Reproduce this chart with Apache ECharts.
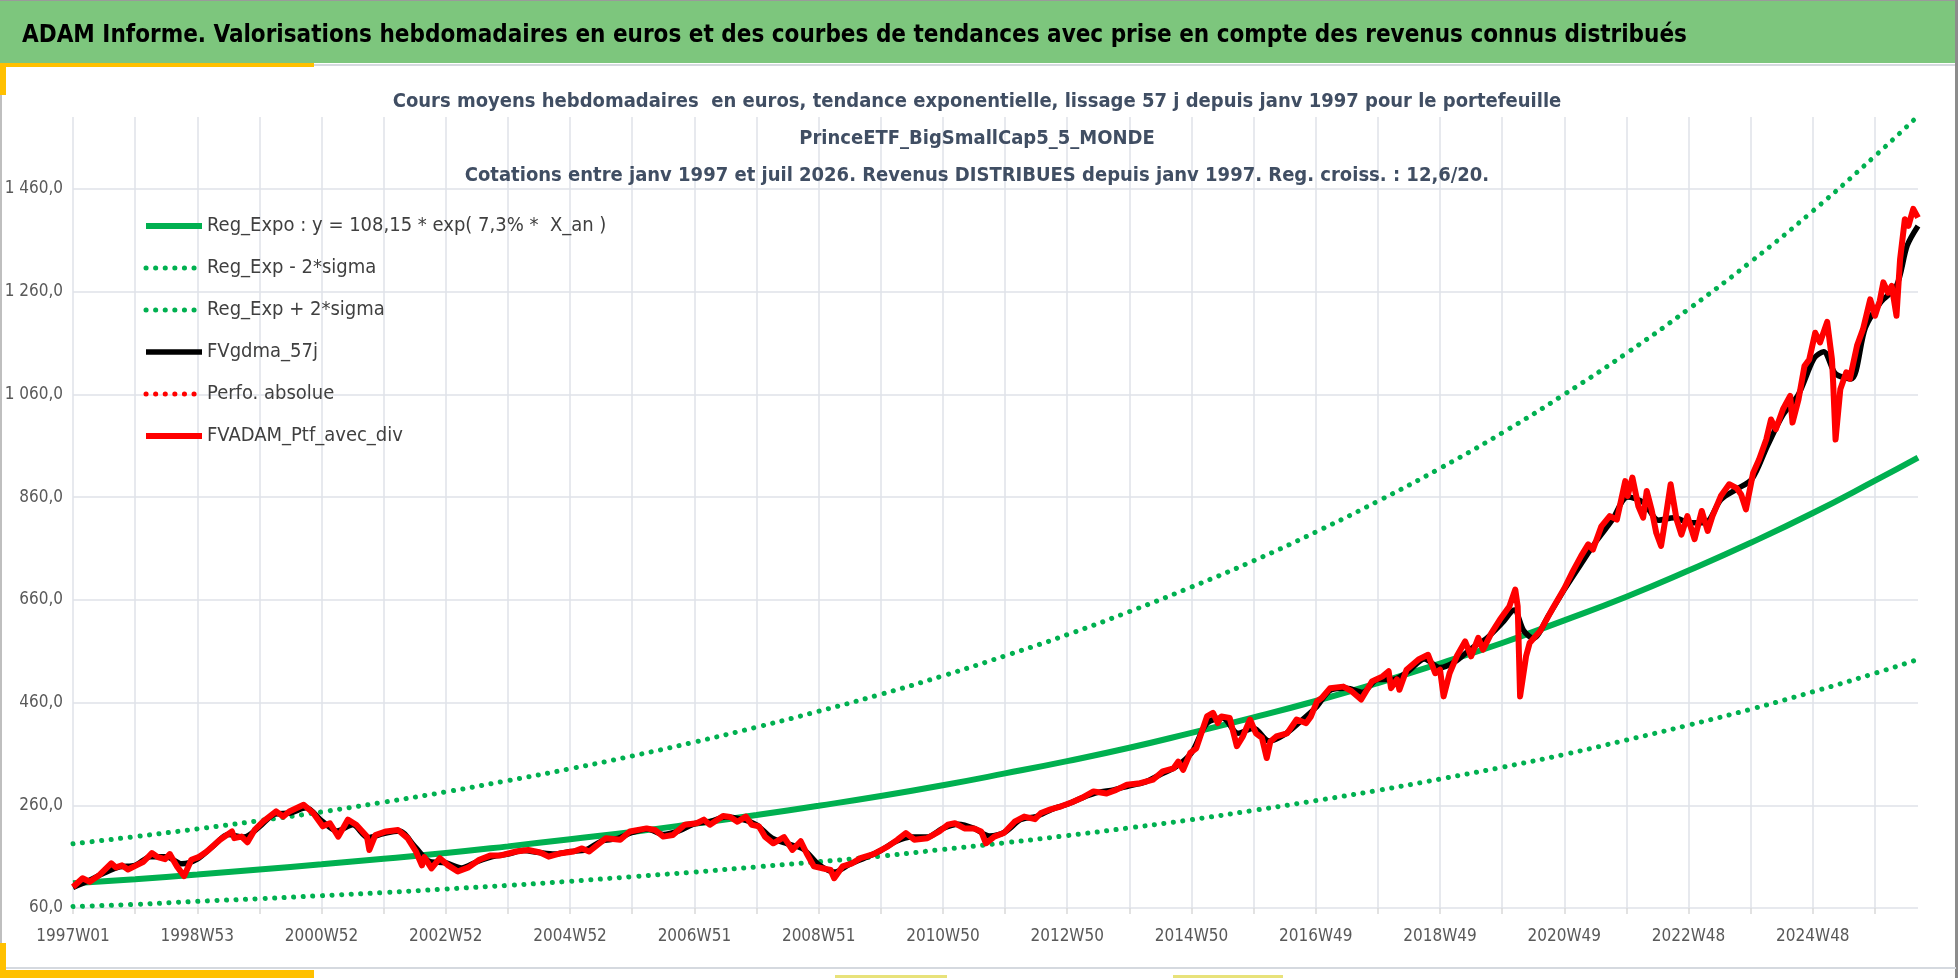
<!DOCTYPE html>
<html lang="fr">
  <head>
    <meta charset="UTF-8" />
    <title>ADAM Informe - PrinceETF_BigSmallCap5_5_MONDE</title>
    <script src="https://cdn.jsdelivr.net/npm/echarts@6/dist/echarts.min.js"></script>
    <style>
      html, body { margin: 0; padding: 0; background: #fff; }
      #chart { width: 1958px; height: 978px; }
    </style>
  </head>
  <body>
    <div id="chart"></div>
    <script>
      // libellés de l'axe des semaines (un tous les 104 points)
      var tickLabels = ['1997W01', '1998W53', '2000W52', '2002W52', '2004W52', '2006W51', '2008W51',
        '2010W50', '2012W50', '2014W50', '2016W49', '2018W49', '2020W49', '2022W48', '2024W48'];
      var lastWeek = 1544;

      // courbes de tendance, lues toutes les 52 semaines
      var trendWeeks = [0, 52, 104, 156, 208, 260, 312, 364, 416, 468, 520, 572, 624, 676, 728, 780,
        832, 884, 936, 988, 1040, 1092, 1144, 1196, 1248, 1300, 1352, 1404, 1456, 1508, 1544];
      var regExpo = [108, 116, 125, 135, 145, 156, 167, 180, 194, 208, 224, 241, 259, 278, 299, 322,
        346, 372, 401, 431, 463, 498, 536, 576, 620, 666, 717, 771, 829, 892, 937];
      var regLow = [63, 67, 73, 78, 84, 90, 97, 104, 112, 121, 130, 140, 150, 161, 174, 187,
        201, 216, 232, 250, 269, 289, 311, 334, 359, 387, 416, 447, 481, 517, 544];
      var regHigh = [185, 199, 214, 230, 247, 266, 286, 308, 331, 356, 383, 412, 443, 476, 512, 551,
        592, 637, 685, 736, 792, 852, 916, 985, 1060, 1140, 1226, 1318, 1417, 1524, 1602];

      // moyenne lissee 57 j : [semaine, valeur]
      var gdma57 = [[0, 100], [13, 113], [26, 128], [39, 140], [52, 143], [65, 160], [78, 160], [91, 146],
        [104, 155], [117, 180], [130, 203], [143, 198], [156, 218], [169, 243], [182, 245], [195, 255],
        [208, 230], [221, 210], [234, 222], [247, 197], [260, 205], [273, 210], [286, 180], [299, 150],
        [312, 148], [325, 138], [338, 150], [351, 160], [364, 165], [377, 172], [390, 168], [403, 165],
        [416, 170], [429, 173], [442, 190], [455, 195], [468, 207], [481, 214], [494, 203], [507, 210],
        [520, 224], [533, 228], [546, 237], [559, 233], [572, 222], [585, 196], [598, 185], [611, 175],
        [624, 145], [637, 130], [650, 145], [663, 158], [676, 172], [689, 190], [702, 198], [715, 198],
        [728, 215], [741, 223], [754, 215], [767, 200], [780, 208], [793, 232], [806, 238], [819, 252],
        [832, 262], [845, 275], [858, 285], [871, 290], [884, 298], [897, 305], [910, 320], [923, 335],
        [936, 362], [949, 420], [962, 430], [975, 400], [988, 410], [1001, 385], [1014, 398], [1027, 423],
        [1040, 450], [1053, 485], [1066, 488], [1079, 480], [1092, 505], [1105, 505], [1118, 522], [1131, 545],
        [1144, 528], [1157, 540], [1170, 565], [1183, 585], [1196, 615], [1206, 640], [1214, 600], [1222, 585],
        [1235, 630], [1248, 680], [1262, 730], [1275, 775], [1288, 815], [1301, 860], [1314, 850], [1327, 815],
        [1340, 820], [1353, 810], [1366, 810], [1379, 855], [1392, 875], [1405, 895], [1418, 960], [1431, 1020],
        [1444, 1060], [1457, 1130], [1465, 1143], [1475, 1100], [1488, 1090], [1500, 1190], [1513, 1240],
        [1526, 1271], [1535, 1350], [1544, 1388]];

      // valorisation du portefeuille avec dividendes : [semaine, valeur]
      var ptfAvecDiv = [[0, 101], [8, 118], [14, 111], [22, 124], [32, 147], [36, 139], [41, 143], [46, 135],
        [53, 143], [59, 150], [66, 167], [71, 159], [77, 155], [81, 165], [87, 141], [93, 122], [99, 154],
        [105, 159], [112, 170], [123, 193], [133, 209], [135, 196], [141, 199], [146, 188], [152, 212],
        [159, 228], [170, 248], [176, 238], [181, 248], [193, 261], [201, 245], [209, 219], [215, 225],
        [222, 199], [230, 232], [237, 222], [246, 199], [248, 173], [253, 202], [262, 209], [272, 212],
        [280, 196], [287, 170], [292, 143], [294, 159], [300, 137], [307, 157], [314, 143], [322, 131],
        [331, 139], [340, 154], [349, 162], [357, 162], [371, 170], [381, 173], [391, 168], [398, 160],
        [407, 166], [419, 170], [426, 176], [432, 170], [446, 196], [458, 193], [466, 209], [480, 215],
        [487, 212], [494, 199], [502, 202], [512, 222], [522, 225], [528, 232], [533, 222], [544, 239],
        [550, 237], [556, 228], [563, 238], [568, 222], [574, 219], [579, 199], [586, 186], [595, 198],
        [602, 173], [609, 190], [614, 166], [620, 141], [628, 137], [634, 134], [637, 118], [644, 141],
        [652, 147], [659, 157], [670, 165], [682, 180], [690, 193], [697, 206], [704, 193], [715, 196],
        [725, 209], [732, 222], [738, 225], [746, 215], [754, 215], [760, 209], [764, 186], [771, 199],
        [779, 206], [788, 228], [796, 238], [805, 233], [810, 245], [818, 252], [827, 258], [836, 266],
        [844, 274], [854, 287], [865, 283], [873, 290], [882, 300], [893, 303], [904, 310], [912, 326],
        [921, 332], [925, 345], [929, 329], [935, 362], [940, 371], [949, 433], [954, 440], [958, 420],
        [961, 433], [968, 430], [974, 375], [979, 394], [985, 427], [990, 400], [995, 391], [999, 352],
        [1002, 384], [1007, 394], [1016, 400], [1024, 427], [1032, 420], [1036, 433], [1041, 462],
        [1045, 469], [1052, 488], [1063, 491], [1070, 482], [1078, 466], [1087, 501], [1096, 511],
        [1101, 521], [1103, 488], [1108, 505], [1110, 485], [1116, 524], [1126, 544], [1134, 553],
        [1140, 517], [1144, 524], [1147, 472], [1152, 517], [1158, 550], [1165, 579], [1170, 550],
        [1176, 586], [1180, 563], [1187, 595], [1194, 621], [1202, 647], [1207, 680], [1209, 647],
        [1211, 472], [1216, 550], [1219, 576], [1228, 600], [1238, 642], [1248, 682], [1255, 715],
        [1262, 745], [1268, 768], [1272, 758], [1279, 803], [1286, 823], [1292, 816], [1299, 891],
        [1301, 862], [1305, 898], [1310, 842], [1314, 820], [1317, 872], [1321, 836], [1325, 790],
        [1329, 765], [1333, 823], [1337, 885], [1342, 816], [1346, 787], [1351, 823], [1357, 778],
        [1363, 833], [1368, 794], [1372, 823], [1379, 862], [1386, 885], [1392, 878], [1396, 865],
        [1400, 836], [1406, 907], [1411, 933], [1417, 972], [1421, 1011], [1425, 992], [1431, 1031],
        [1437, 1057], [1439, 1005], [1444, 1050], [1449, 1115], [1453, 1128], [1458, 1180], [1462, 1161],
        [1468, 1201], [1472, 1128], [1473, 1083], [1475, 972], [1479, 1070], [1484, 1103], [1487, 1090],
        [1493, 1155], [1498, 1187], [1504, 1245], [1508, 1213], [1512, 1242], [1515, 1278], [1519, 1258],
        [1522, 1271], [1526, 1213], [1529, 1323], [1533, 1401], [1536, 1388], [1540, 1421], [1544, 1404]];

      var headerText = 'ADAM Informe. Valorisations hebdomadaires en euros et des courbes de tendances avec prise en compte des revenus connus distribués';
      var titleLines = [
        'Cours moyens hebdomadaires  en euros, tendance exponentielle, lissage 57 j depuis janv 1997 pour le portefeuille',
        'PrinceETF_BigSmallCap5_5_MONDE',
        'Cotations entre janv 1997 et juil 2026. Revenus DISTRIBUES depuis janv 1997. Reg. croiss. : 12,6/20.'
      ];

      var narrow = "'DejaVu Sans Condensed', 'Liberation Sans', sans-serif";

      function pairs(xs, ys) {
        var out = [];
        for (var i = 0; i < xs.length; i++) out.push([xs[i], ys[i]]);
        return out;
      }

      // format francais : 1 460,0
      function frNumber(v) {
        var s = v.toFixed(1).split('.');
        return s[0].replace(/\B(?=(\d{3})+(?!\d))/g, ' ') + ',' + s[1];
      }

      var mCharts = echarts.init(document.getElementById('chart'));

      var dotted = { type: [0.1, 9.5], cap: 'round', width: 5 };

      var option = {
        animation: false,
        backgroundColor: '#ffffff',
        title: {
          text: titleLines.join('\n'),
          left: 972,
          textAlign: 'center',
          top: 78,
          textStyle: {
            fontFamily: narrow,
            fontSize: 20,
            fontWeight: 'bold',
            color: '#404E63',
            lineHeight: 37
          }
        },
        legend: {
          orient: 'vertical',
          left: 138,
          top: 210,
          itemWidth: 56,
          itemHeight: 14,
          itemGap: 20,
          itemStyle: { opacity: 0 },
          lineStyle: { width: 'inherit' },
          textStyle: { fontFamily: narrow, fontSize: 20, color: '#404040', lineHeight: 22 },
          data: ['Reg_Expo : y = 108,15 * exp( 7,3% *  X_an )', 'Reg_Exp - 2*sigma', 'Reg_Exp + 2*sigma',
            'FVgdma_57j', 'Perfo. absolue', 'FVADAM_Ptf_avec_div']
        },
        grid: { left: 73, right: 40, top: 117, bottom: 70 },
        xAxis: {
          type: 'value',
          min: 0,
          max: lastWeek,
          interval: 52,
          axisLine: { show: false },
          axisTick: { show: true, length: 6, lineStyle: { color: '#D9D9D9', width: 1.5 } },
          axisLabel: {
            fontFamily: narrow,
            fontSize: 17,
            color: '#595959',
            margin: 20,
            showMaxLabel: false,
            formatter: function (v) {
              if (v % 104 === 0) return tickLabels[v / 104] || '';
              return '';
            }
          },
          splitLine: { show: true, showMaxLine: false, lineStyle: { color: '#DFE2E8', width: 1.5 } }
        },
        yAxis: {
          type: 'value',
          min: 60,
          max: 1600,
          interval: 200,
          axisLine: { show: false },
          axisTick: { show: false },
          axisLabel: {
            fontFamily: narrow,
            fontSize: 17,
            color: '#595959',
            margin: 10,
            showMaxLabel: false,
            formatter: function (v) { return v % 200 === 60 ? frNumber(v) : ''; }
          },
          splitLine: { show: true, showMaxLine: false, lineStyle: { color: '#DFE2E8', width: 1.5 } }
        },
        series: [
          {
            name: 'Reg_Expo : y = 108,15 * exp( 7,3% *  X_an )',
            type: 'line',
            symbol: 'none',
            smooth: true,
            data: pairs(trendWeeks, regExpo),
            color: '#00B050',
            lineStyle: { width: 6, color: '#00B050' }
          },
          {
            name: 'Reg_Exp - 2*sigma',
            type: 'line',
            symbol: 'none',
            smooth: true,
            data: pairs(trendWeeks, regLow),
            color: '#00B050',
            lineStyle: Object.assign({ color: '#00B050' }, dotted)
          },
          {
            name: 'Reg_Exp + 2*sigma',
            type: 'line',
            symbol: 'none',
            smooth: true,
            data: pairs(trendWeeks, regHigh),
            color: '#00B050',
            lineStyle: Object.assign({ color: '#00B050' }, dotted)
          },
          {
            name: 'FVgdma_57j',
            type: 'line',
            symbol: 'none',
            smooth: 0.3,
            data: gdma57,
            color: '#000000',
            lineStyle: { width: 5.5, color: '#000000' }
          },
          {
            name: 'Perfo. absolue',
            type: 'line',
            symbol: 'none',
            data: [],
            color: '#FF0000',
            lineStyle: Object.assign({ color: '#FF0000' }, dotted)
          },
          {
            name: 'FVADAM_Ptf_avec_div',
            type: 'line',
            symbol: 'none',
            data: ptfAvecDiv,
            color: '#FF0000',
            lineStyle: { width: 6, color: '#FF0000', join: 'round' }
          }
        ],
        graphic: [
          { type: 'rect', z: -10, shape: { x: 0, y: 0, width: 1958, height: 63 }, style: { fill: '#7DC67D' } },
          { type: 'rect', shape: { x: 0, y: 0, width: 1958, height: 1 }, style: { fill: '#9A9A9A' } },
          {
            type: 'text', left: 22, top: 24,
            style: { text: headerText, font: 'bold 24px ' + narrow, fill: '#000000' }
          },
          { type: 'rect', shape: { x: 314, y: 64, width: 1642, height: 2 }, style: { fill: '#D5D9DF' } },
          { type: 'rect', shape: { x: 0, y: 63, width: 314, height: 4 }, style: { fill: '#FFC000' } },
          { type: 'rect', shape: { x: 0, y: 63, width: 6, height: 32 }, style: { fill: '#FFC000' } },
          { type: 'rect', shape: { x: 0, y: 95, width: 2, height: 848 }, style: { fill: '#BFBFBF' } },
          { type: 'rect', shape: { x: 1955, y: 0, width: 3, height: 978 }, style: { fill: '#8C8C8C' } },
          { type: 'rect', shape: { x: 0, y: 967, width: 1956, height: 2 }, style: { fill: '#D5D9DF' } },
          { type: 'rect', shape: { x: 0, y: 943, width: 6, height: 35 }, style: { fill: '#FFC000' } },
          { type: 'rect', shape: { x: 0, y: 970, width: 314, height: 8 }, style: { fill: '#FFC000' } },
          { type: 'rect', shape: { x: 835, y: 975, width: 112, height: 3 }, style: { fill: '#E8E27A' } },
          { type: 'rect', shape: { x: 1173, y: 975, width: 110, height: 3 }, style: { fill: '#E8E27A' } }
        ]
      };

      mCharts.setOption(option);
    </script>
  </body>
</html>
